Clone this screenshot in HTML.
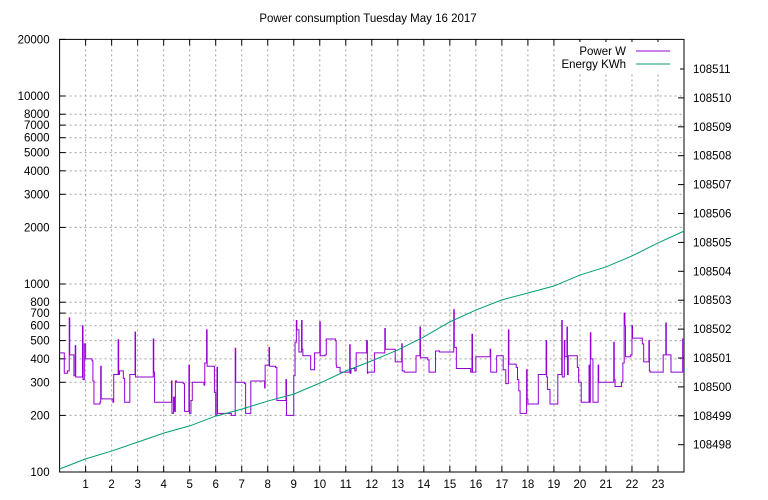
<!DOCTYPE html>
<html><head><meta charset="utf-8"><style>
body{margin:0;background:#fff}
svg{display:block;font-family:"Liberation Sans",sans-serif}
</style></head><body>
<svg id="chart" width="768" height="500" viewBox="0 0 768 500" xmlns="http://www.w3.org/2000/svg">
<rect width="768" height="500" fill="#fff"/>
<text x="368" y="22" font-size="11.5" text-anchor="middle">Power consumption Tuesday May 16 2017</text>
<g id="grid"></g><g id="axes"></g><g id="series"></g>
<g>
<rect x="556" y="42" width="124" height="30" fill="#fff"/>
<text x="626" y="55" font-size="11.5" text-anchor="end">Power W</text>
<line x1="636" y1="51" x2="670" y2="51" stroke="#9400d3" stroke-width="1"/>
<text x="626" y="68" font-size="11.5" text-anchor="end">Energy KWh</text>
<line x1="636" y1="64" x2="670" y2="64" stroke="#009e73" stroke-width="1"/>
</g>
</svg>
<script>
const hourTicks=[1,2,3,4,5,6,7,8,9,10,11,12,13,14,15,16,17,18,19,20,21,22,23];
const powerTicks=[100,200,300,400,500,600,700,800,1000,2000,3000,4000,5000,6000,7000,8000,10000,20000];
const energyTicks=[108498,108499,108500,108501,108502,108503,108504,108505,108506,108507,108508,108509,108510,108511];
const energyHours=[0,1,2,3,4,5,6,7,8,9,10,11,12,13,14,15,16,17,18,19,20,21,22,23,24];
const energyValues=[108497.16,108497.51,108497.78,108498.09,108498.40,108498.65,108498.99,108499.23,108499.51,108499.75,108500.13,108500.55,108500.90,108501.28,108501.73,108502.25,108502.66,108503.01,108503.25,108503.49,108503.87,108504.15,108504.53,108504.98,108505.39];
const powerHours=[0,0.18,0.3,0.37,0.39,0.55,0.6,0.62,0.65,0.88,0.9,0.95,1.0,1.25,1.28,1.32,1.55,1.58,1.6,2.05,2.08,2.25,2.27,2.3,2.45,2.5,2.7,2.9,2.92,3.0,3.6,3.62,3.65,4.3,4.32,4.38,4.42,4.45,4.5,4.75,4.8,4.97,4.99,5.05,5.1,5.55,5.58,5.65,5.67,5.95,6.0,6.05,6.07,6.1,6.6,6.75,6.77,7.1,7.15,7.35,7.88,7.9,8.05,8.07,8.3,8.35,8.7,8.72,8.75,9.0,9.05,9.1,9.12,9.15,9.2,9.3,9.32,9.35,9.65,9.8,10.0,10.02,10.05,10.2,10.25,10.6,10.63,10.65,10.78,11.15,11.17,11.2,11.35,11.4,11.8,11.83,11.85,12.1,12.5,12.52,12.9,13.15,13.17,13.25,13.7,13.85,13.87,14.15,14.2,14.45,14.6,15.15,15.17,15.25,15.8,15.85,15.87,16.0,16.55,16.57,16.6,16.8,17.05,17.15,17.25,17.27,17.55,17.6,17.65,17.7,17.95,17.97,18.0,18.4,18.7,18.72,18.75,18.85,19.15,19.3,19.32,19.4,19.42,19.5,19.52,19.55,19.9,19.95,20.05,20.35,20.37,20.4,20.42,20.5,20.7,20.72,20.75,21.3,21.32,21.35,21.6,21.65,21.7,21.73,21.75,21.95,22.0,22.02,22.4,22.45,22.65,22.67,22.7,23.2,23.3,23.32,23.45,23.5,23.95,24];
const powerValues=[430,335,345,660,420,325,470,320,320,600,310,480,400,390,305,230,235,365,245,235,330,505,330,345,315,235,330,555,320,320,510,340,235,305,205,250,210,305,300,295,210,370,205,240,300,290,380,570,365,265,200,360,205,205,200,455,300,295,205,305,280,370,460,365,360,240,310,200,200,325,490,640,570,570,435,640,450,415,350,430,630,415,415,420,510,500,370,360,340,475,335,355,345,430,500,335,340,430,580,450,385,480,345,340,415,590,405,395,340,440,435,730,460,355,340,540,340,410,450,340,340,415,350,295,570,375,360,310,270,205,350,245,230,330,500,320,275,230,330,640,320,500,410,590,330,415,360,300,235,370,235,550,400,235,370,300,300,490,310,285,300,380,700,600,410,420,600,515,480,385,500,345,340,420,620,420,420,340,510,510];
const L=59.6,R=684,T=39.4,B=472;
const xS=h=>L+h*(R-L)/24;
const yP=v=>B-(Math.log10(v)-2)*188;
const yE=e=>444.7-(e-108498)*28.9;
const NS="http://www.w3.org/2000/svg";
function mk(tag,attrs,parent){const el=document.createElementNS(NS,tag);for(const k in attrs)el.setAttribute(k,attrs[k]);document.getElementById(parent).appendChild(el);return el;}
hourTicks.forEach(h=>{
 const g=mk('line',{x1:xS(h),x2:xS(h),y1:T,y2:B,stroke:'#a0a0a0','stroke-dasharray':'2,3','stroke-width':1},'grid');
 
 
 const t=mk('text',{x:xS(h),y:B+16,'font-size':11.5,'text-anchor':'middle'},'axes');t.textContent=h;
 
 
 mk('line',{x1:xS(h),x2:xS(h),y1:B,y2:B-6,stroke:'#000'},'axes');
 mk('line',{x1:xS(h),x2:xS(h),y1:T,y2:T+6,stroke:'#000'},'axes');
});
powerTicks.forEach(v=>{
 if(v>100&&v<20000){const g=mk('line',{x1:L,x2:R,y1:yP(v),y2:yP(v),stroke:'#a0a0a0','stroke-dasharray':'2,3'},'grid');
 
 }
 mk('line',{x1:L,x2:L+6,y1:yP(v),y2:yP(v),stroke:'#000'},'axes');
 const t=mk('text',{x:L-10,y:yP(v)+4,'font-size':11.5,'text-anchor':'end'},'axes');t.textContent=v;
 
 
});
energyTicks.forEach(e=>{
 mk('line',{x1:R,x2:R-6,y1:yE(e),y2:yE(e),stroke:'#000'},'axes');
 const t=mk('text',{x:R+9,y:yE(e)+4,'font-size':11.5},'axes');t.textContent=e;
 
 
});
const fr=mk('rect',{x:L,y:T,width:R-L,height:B-T,fill:'none',stroke:'#000'},'axes');


let d='';
powerHours.forEach((h,i)=>{const x=xS(h),y=yP(powerValues[i]);if(i===0)d+=`M${x},${y}`;else d+=`H${x}V${y}`;});
const pp=mk('path',{d:d,fill:'none',stroke:'#9400d3','stroke-width':1},'series');


const ep=mk('path',{d:energyHours.map((h,i)=>(i?'L':'M')+xS(h)+','+yE(energyValues[i])).join(''),fill:'none',stroke:'#009e73','stroke-width':1},'series');


</script>
</body></html>
